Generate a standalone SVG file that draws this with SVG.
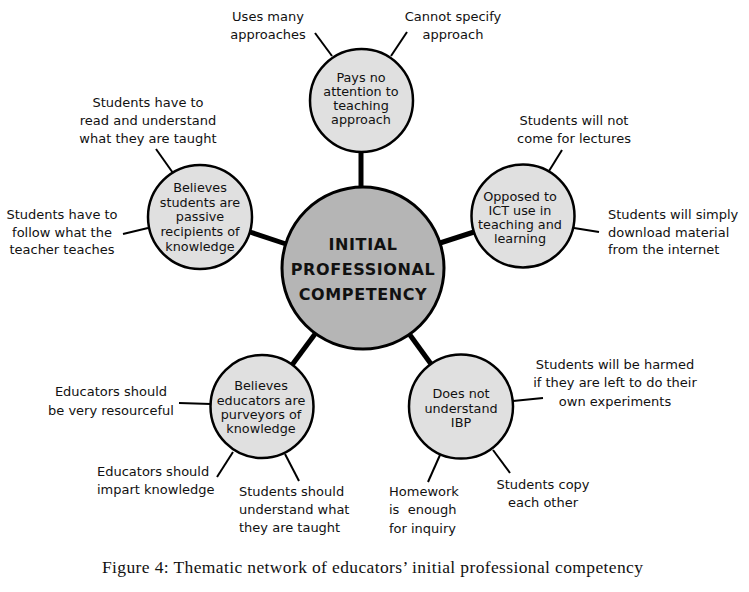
<svg xmlns="http://www.w3.org/2000/svg" width="749" height="592" viewBox="0 0 749 592">
<style>
.bg{fill:#fff}
.hub{fill:#b5b5b5;stroke:#000;stroke-width:3}
.node{fill:#e0e0e0;stroke:#000;stroke-width:2.5}
.thick{stroke:#000;stroke-width:5;fill:none}
.thin{stroke:#000;stroke-width:2;fill:none}
text{font-family:"DejaVu Sans","Verdana",sans-serif;fill:#111;dominant-baseline:central}
.lf{font-size:13px}
.nt{font-size:12.8px;text-anchor:middle}
.ht{font-size:16px;font-weight:bold;text-anchor:middle;letter-spacing:0.6px}
.c{text-anchor:middle}
.cap{font-family:"Liberation Serif","Times New Roman",serif;font-size:17.5px;text-anchor:middle}
</style>
<rect class="bg" x="0" y="0" width="749" height="592"/>
<g id="connectors">
<line class="thick" x1="361" y1="152" x2="361" y2="188"/>
<line class="thick" x1="250" y1="232" x2="286" y2="244"/>
<line class="thick" x1="474" y1="232" x2="440" y2="243"/>
<line class="thick" x1="292" y1="365" x2="315" y2="334"/>
<line class="thick" x1="431" y1="364" x2="410" y2="335"/>
<line class="thin" x1="315" y1="33" x2="332" y2="56"/>
<line class="thin" x1="407" y1="32" x2="391" y2="56"/>
<line class="thin" x1="156" y1="149" x2="173" y2="173"/>
<line class="thin" x1="123" y1="234" x2="148" y2="228"/>
<line class="thin" x1="562" y1="150" x2="549" y2="171"/>
<line class="thin" x1="574" y1="228" x2="599" y2="232"/>
<line class="thin" x1="179" y1="403" x2="211" y2="404"/>
<line class="thin" x1="217" y1="477" x2="233" y2="452"/>
<line class="thin" x1="299" y1="481" x2="285" y2="454"/>
<line class="thin" x1="513" y1="401" x2="543" y2="398"/>
<line class="thin" x1="493" y1="450" x2="510" y2="473"/>
<line class="thin" x1="440" y1="455" x2="428" y2="482"/>
</g>
<g id="hub">
<circle class="hub" cx="363" cy="268" r="81"/>
<text class="ht" x="363" y="244">INITIAL</text>
<text class="ht" x="363" y="269">PROFESSIONAL</text>
<text class="ht" x="363" y="294">COMPETENCY</text>
</g>
<g id="n-top">
<circle class="node" cx="361.5" cy="100.5" r="51.5"/>
<text class="nt" x="361" y="77">Pays no</text>
<text class="nt" x="361" y="91">attention to</text>
<text class="nt" x="361" y="105">teaching</text>
<text class="nt" x="361" y="119">approach</text>
</g>
<g id="n-passive">
<circle class="node" cx="200" cy="217" r="52"/>
<text class="nt" x="200" y="187">Believes</text>
<text class="nt" x="200" y="202">students are</text>
<text class="nt" x="200" y="216">passive</text>
<text class="nt" x="200" y="231">recipients of</text>
<text class="nt" x="200" y="246">knowledge</text>
</g>
<g id="n-ict">
<circle class="node" cx="523" cy="216" r="51.5"/>
<text class="nt" x="520" y="196">Opposed to</text>
<text class="nt" x="520" y="210">ICT use in</text>
<text class="nt" x="520" y="224">teaching and</text>
<text class="nt" x="520" y="238">learning</text>
</g>
<g id="n-purveyors">
<circle class="node" cx="262" cy="406.5" r="51.5"/>
<text class="nt" x="261" y="385">Believes</text>
<text class="nt" x="261" y="400">educators are</text>
<text class="nt" x="261" y="414">purveyors of</text>
<text class="nt" x="261" y="428">knowledge</text>
</g>
<g id="n-ibp">
<circle class="node" cx="461" cy="406.5" r="52"/>
<text class="nt" x="461" y="393">Does not</text>
<text class="nt" x="461" y="408">understand</text>
<text class="nt" x="461" y="422">IBP</text>
</g>
<g id="l-uses">
<text class="lf c" x="268" y="16">Uses many</text>
<text class="lf c" x="268" y="34">approaches</text>
</g>
<g id="l-cannot">
<text class="lf c" x="453" y="16">Cannot specify</text>
<text class="lf c" x="453" y="34">approach</text>
</g>
<g id="l-read">
<text class="lf c" x="148" y="102">Students have to</text>
<text class="lf c" x="148" y="120">read and understand</text>
<text class="lf c" x="148" y="138">what they are taught</text>
</g>
<g id="l-follow">
<text class="lf c" x="62" y="214">Students have to</text>
<text class="lf c" x="62" y="232">follow what the</text>
<text class="lf c" x="62" y="249">teacher teaches</text>
</g>
<g id="l-lectures">
<text class="lf c" x="574" y="120">Students will not</text>
<text class="lf c" x="574" y="138">come for lectures</text>
</g>
<g id="l-download">
<text class="lf" x="608" y="214">Students will simply</text>
<text class="lf" x="608" y="232">download material</text>
<text class="lf" x="608" y="249">from the internet</text>
</g>
<g id="l-resourceful">
<text class="lf c" x="111" y="391">Educators should</text>
<text class="lf c" x="111" y="410">be very resourceful</text>
</g>
<g id="l-impart">
<text class="lf" x="97" y="471">Educators should</text>
<text class="lf" x="97" y="489">impart knowledge</text>
</g>
<g id="l-understand">
<text class="lf" x="239" y="491">Students should</text>
<text class="lf" x="239" y="509">understand what</text>
<text class="lf" x="239" y="527">they are taught</text>
</g>
<g id="l-harmed">
<text class="lf c" x="615" y="364">Students will be harmed</text>
<text class="lf c" x="615" y="382">if they are left to do their</text>
<text class="lf c" x="615" y="401">own experiments</text>
</g>
<g id="l-copy">
<text class="lf c" x="543" y="484">Students copy</text>
<text class="lf c" x="543" y="502">each other</text>
</g>
<g id="l-homework">
<text class="lf" x="389" y="491">Homework</text>
<text class="lf" x="389" y="509" xml:space="preserve">is  enough</text>
<text class="lf" x="389" y="528">for inquiry</text>
</g>
<text class="cap" x="372.5" y="567" textLength="541" lengthAdjust="spacing">Figure 4: Thematic network of educators’ initial professional competency</text>
</svg>
